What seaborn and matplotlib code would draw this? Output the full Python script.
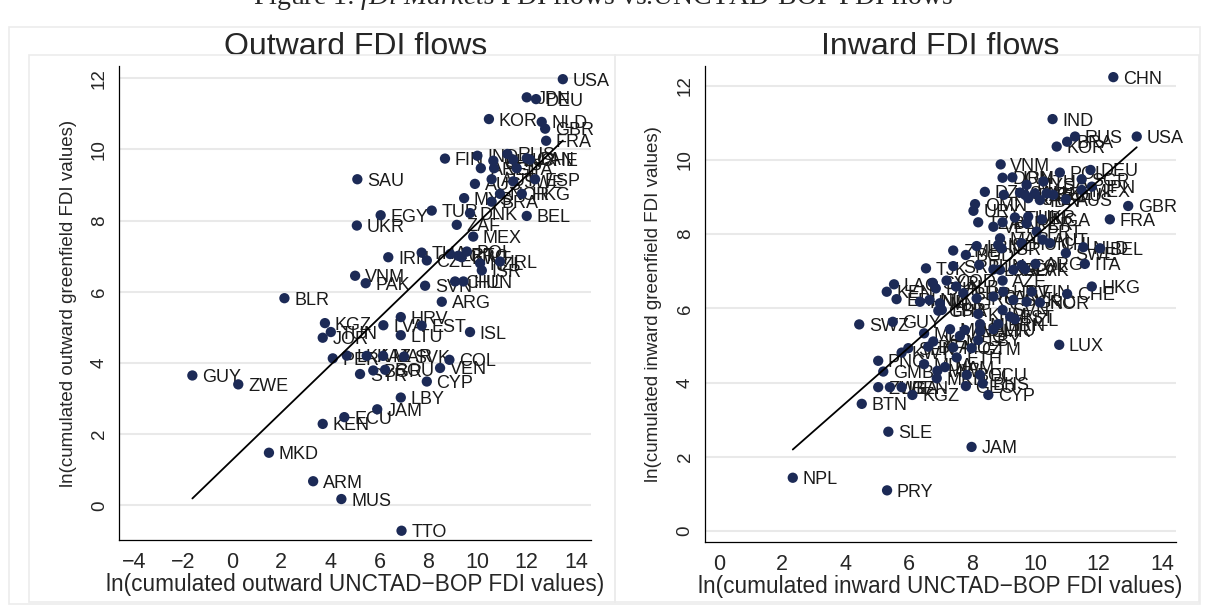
import numpy as np
import pandas as pd
import matplotlib
matplotlib.use("Agg")
import matplotlib.pyplot as plt
from matplotlib.patches import Rectangle
import seaborn as sns

# Outward FDI flows
out_iso = ['USA', 'JPN', 'DEU', 'KOR', 'NLD', 'GBR', 'FRA', 'FIN', 'IND', 'CHN',
           'RUS', 'LUX', 'CAN', 'CHE', 'ARE', 'SGP', 'ITA', 'AUS', 'AUT', 'SWE',
           'ESP', 'MYS', 'NOR', 'HKG', 'BRA', 'TUR', 'DNK', 'BEL', 'ZAF', 'EGY',
           'SAU', 'UKR', 'MEX', 'THA', 'IRN', 'CZE', 'POL', 'PRT', 'GRC', 'KWT',
           'NZL', 'IRL', 'ISR', 'CHL', 'HUN', 'SVN', 'ARG', 'VNM', 'PAK', 'BLR',
           'HRV', 'KGZ', 'LVA', 'EST', 'ISL', 'TUN', 'JOR', 'LTU', 'PER', 'LKA',
           'KAZ', 'MAR', 'SVK', 'COL', 'VEN', 'SYR', 'BGR', 'ROU', 'CYP', 'GUY',
           'ZWE', 'LBY', 'JAM', 'ECU', 'KEN', 'MKD', 'ARM', 'MUS', 'TTO']
out_x = [13.47, 12.00, 12.38, 10.46, 12.61, 12.75, 12.79, 8.67, 9.99, 10.64,
         11.21, 11.45, 12.00, 12.13, 10.13, 10.67, 11.59, 9.89, 10.57, 11.45,
         12.34, 9.45, 10.91, 11.80, 10.57, 8.13, 9.69, 12.00, 9.15, 6.05,
         5.10, 5.08, 9.82, 7.72, 6.36, 7.93, 9.56, 8.88, 9.21, 9.35,
         10.10, 10.91, 10.17, 9.08, 9.42, 7.86, 8.54, 5.01, 5.44, 2.13,
         6.87, 3.78, 6.16, 7.72, 9.69, 4.02, 3.69, 6.87, 4.10, 4.67,
         5.48, 6.15, 7.00, 8.85, 8.47, 5.21, 5.75, 6.23, 7.93, -1.62,
         0.25, 6.87, 5.91, 4.57, 3.69, 1.50, 3.30, 4.45, 6.90]
out_y = [11.97, 11.46, 11.41, 10.85, 10.77, 10.58, 10.24, 9.74, 9.82, 9.68,
         9.87, 9.71, 9.75, 9.71, 9.47, 9.47, 9.47, 9.03, 9.16, 9.10,
         9.16, 8.63, 8.75, 8.75, 8.53, 8.28, 8.21, 8.13, 7.88, 8.15,
         9.16, 7.86, 7.55, 7.10, 6.97, 6.88, 7.13, 7.06, 7.01, 6.97,
         6.80, 6.85, 6.60, 6.29, 6.29, 6.17, 5.72, 6.45, 6.24, 5.82,
         5.29, 5.12, 5.06, 5.05, 4.87, 4.87, 4.71, 4.78, 4.13, 4.21,
         4.20, 4.20, 4.18, 4.09, 3.86, 3.69, 3.79, 3.81, 3.48, 3.65,
         3.40, 3.03, 2.70, 2.48, 2.29, 1.48, 0.68, 0.18, -0.71]
out_fit = (1.275, 0.666)   # intercept, slope of the fitted line

# Inward FDI flows
in_iso = ['CHN', 'IND', 'RUS', 'BRA', 'KOR', 'USA', 'VNM', 'DEU', 'POL', 'DOM',
          'IRN', 'SGP', 'THA', 'MYS', 'JPN', 'MEX', 'DZA', 'PHL', 'SAU', 'QAT',
          'ARE', 'CZE', 'ROU', 'IDN', 'AUS', 'KAZ', 'OMN', 'URY', 'GBR', 'FRA',
          'TZA', 'VEN', 'BLR', 'TUR', 'UKR', 'PER', 'NGA', 'PRT', 'MAR', 'AUT',
          'CHL', 'HUN', 'ISL', 'ISR', 'LBN', 'ZMB', 'BGD', 'NLD', 'BEL', 'SWE',
          'ITA', 'TJK', 'SRB', 'TUN', 'LKA', 'CRI', 'SLV', 'COL', 'ARG', 'PAK',
          'LAO', 'SYR', 'COD', 'BIH', 'ALB', 'AZE', 'KEN', 'ERI', 'HND', 'NIC',
          'MNG', 'LBR', 'BHR', 'IRQ', 'PAN', 'HRV', 'FIN', 'SVK', 'GRC', 'NOR',
          'CHE', 'HKG', 'KHM', 'SVN', 'EST', 'NZL', 'GHA', 'LUX', 'SWZ', 'GUY',
          'MLI', 'MUS', 'LVA', 'MLT', 'CMR', 'LTU', 'BRN', 'YEM', 'AFG', 'LBY',
          'SEN', 'BFA', 'KWT', 'MOZ', 'GTM', 'PNG', 'ETH', 'MDA', 'GMB', 'MWI',
          'NAM', 'BOL', 'ECU', 'MKD', 'GEO', 'BHS', 'CYP', 'KGZ', 'ZWE', 'UGA',
          'BEN', 'BTN', 'SLE', 'JAM', 'NPL', 'PRY']
in_x = [12.46, 10.54, 11.25, 11.00, 10.67, 13.20, 8.90, 11.74, 10.77, 8.96,
        9.27, 11.46, 10.25, 9.72, 11.78, 11.46, 8.40, 9.00, 9.51, 9.67,
        9.98, 10.35, 10.56, 10.14, 10.96, 9.77, 8.09, 8.04, 12.93, 12.35,
        8.19, 8.67, 8.96, 9.35, 9.77, 9.72, 10.20, 10.04, 8.88, 10.23,
        10.46, 9.56, 8.82, 8.93, 8.14, 7.40, 7.80, 11.51, 12.04, 10.96,
        11.56, 6.54, 7.40, 8.22, 8.67, 8.88, 9.30, 9.56, 10.00, 9.67,
        5.53, 6.75, 7.19, 6.85, 7.49, 8.96, 5.30, 5.61, 6.35, 6.65,
        6.98, 7.04, 7.72, 8.14, 8.67, 8.98, 9.88, 9.30, 9.72, 10.14,
        11.00, 11.78, 8.19, 8.96, 9.20, 9.35, 6.93, 10.75, 4.43, 5.49,
        6.48, 7.30, 7.77, 8.25, 8.25, 8.67, 8.82, 6.77, 7.61, 8.19,
        5.98, 6.61, 5.77, 7.40, 7.98, 5.03, 7.51, 6.48, 5.19, 6.90,
        7.14, 7.83, 8.25, 6.88, 7.80, 8.33, 8.51, 6.11, 5.03, 5.40,
        5.77, 4.51, 5.35, 7.98, 2.33, 5.31]
in_y = [12.23, 11.10, 10.63, 10.49, 10.36, 10.63, 9.88, 9.73, 9.66, 9.52,
        9.53, 9.48, 9.42, 9.33, 9.28, 9.19, 9.14, 9.06, 9.12, 9.06,
        9.10, 9.10, 9.06, 8.92, 8.94, 8.97, 8.81, 8.63, 8.76, 8.40,
        8.32, 8.20, 8.32, 8.45, 8.47, 8.29, 8.40, 8.07, 7.89, 7.85,
        7.76, 7.76, 7.71, 7.62, 7.68, 7.56, 7.44, 7.65, 7.62, 7.49,
        7.20, 7.08, 7.14, 7.17, 7.05, 7.04, 7.04, 7.17, 7.20, 7.06,
        6.65, 6.69, 6.75, 6.54, 6.59, 6.75, 6.45, 6.25, 6.18, 6.23,
        6.14, 5.96, 6.41, 6.27, 6.32, 6.45, 6.45, 6.23, 6.18, 6.16,
        6.39, 6.59, 5.85, 5.96, 5.78, 5.71, 5.94, 5.02, 5.57, 5.64,
        5.33, 5.44, 5.42, 5.58, 5.40, 5.44, 5.58, 5.11, 5.26, 5.15,
        4.93, 4.97, 4.81, 4.95, 4.93, 4.59, 4.68, 4.50, 4.30, 4.32,
        4.42, 4.21, 4.21, 4.12, 3.91, 3.98, 3.67, 3.67, 3.88, 3.88,
        3.88, 3.43, 2.68, 2.27, 1.44, 1.10]
in_fit = (0.455, 0.749)

fig_title = r"Figure 1: $\mathit{fDi\ Markets}$ FDI flows vs.UNCTAD-BOP FDI flows"
panel_titles = ['Outward FDI flows', 'Inward FDI flows']
x_labels = ['ln(cumulated outward UNCTAD\u2212BOP FDI values)',
            'ln(cumulated inward UNCTAD\u2212BOP FDI values)']
y_labels = ['ln(cumulated outward greenfield FDI values)',
            'ln(cumulated inward greenfield FDI values)']

sns.set_style("white")
plt.rcParams['font.family'] = ['Liberation Sans', 'DejaVu Sans']
plt.rcParams['mathtext.fontset'] = 'custom'
plt.rcParams['mathtext.rm'] = 'Liberation Serif'
plt.rcParams['mathtext.it'] = 'Liberation Serif:italic'

navy = '#1c2a56'
W, H = 1205, 607
fig = plt.figure(figsize=(W / 100, H / 100), dpi=100)

def px_rect(x0, y0, x1, y1, color):
    fig.add_artist(Rectangle((x0 / W, 1 - y1 / H), (x1 - x0) / W, (y1 - y0) / H,
                             transform=fig.transFigure, fill=False,
                             edgecolor=color, linewidth=1.2))

px_rect(9, 27, 1200, 604, '#ececec')
px_rect(29, 55, 615, 602, '#ececec')
px_rect(615, 55, 1199, 602, '#ececec')

# the figure caption is cut by the top edge in the original
fig.text(0.5, 1 - 4 / H, fig_title, ha='center', va='baseline',
         fontsize=20, family='Liberation Serif')

ax_out = fig.add_axes([119.2 / W, (H - 540) / H, (591.3 - 119.2) / W, (540 - 66) / H])
ax_in = fig.add_axes([704.8 / W, (H - 541.6) / H, (1176.3 - 704.8) / W, (541.6 - 66) / H])

panels = [
    (ax_out, out_iso, out_x, out_y, out_fit, (-4.6, 14.63), (-0.97, 12.34), np.arange(-4, 15, 2)),
    (ax_in, in_iso, in_x, in_y, in_fit, (-0.45, 14.45), (-0.28, 12.53), np.arange(0, 15, 2)),
]

for i, (ax, iso, xs, ys, fit, xlim, ylim, xt) in enumerate(panels):
    df = pd.DataFrame({'iso': iso, 'x': xs, 'y': ys})
    ax.set_xlim(*xlim)
    ax.set_ylim(*ylim)
    for yv in range(0, 13, 2):
        ax.axhline(yv, color='#e9e9e9', lw=1.5, zorder=0)
    sns.scatterplot(data=df, x='x', y='y', ax=ax, color=navy, s=55,
                    edgecolor='none', linewidth=0, zorder=3)
    for _, r in df.iterrows():
        ax.annotate(r['iso'], (r['x'], r['y']), xytext=(7, 0),
                    textcoords='offset points', va='center_baseline', ha='left',
                    fontsize=13, color='#1a1a1a', zorder=2)
    xr = np.array([df['x'].min(), df['x'].max()])
    ax.plot(xr, fit[0] + fit[1] * xr, color='black', lw=1.3, zorder=4)

    ax.set_xticks(xt)
    ax.set_xticklabels([str(v).replace('-', '\u2212') for v in xt], fontsize=15.5)
    ax.set_yticks(range(0, 13, 2))
    ax.set_yticklabels([str(v) for v in range(0, 13, 2)], fontsize=13.5,
                       rotation=90, va='center')
    ax.tick_params(axis='both', direction='out', length=4, width=0.8,
                   color='black', pad=4)
    ax.tick_params(axis='x', pad=5)
    for s in ['top', 'right']:
        ax.spines[s].set_visible(False)
    for s in ['left', 'bottom']:
        ax.spines[s].set_color('black')
        ax.spines[s].set_linewidth(0.9)
    ax.set_xlabel(x_labels[i], fontsize=16.3)
    ax.set_ylabel(y_labels[i], fontsize=13.5)
    ax.xaxis.set_label_coords(0.5, -0.07)
    ax.yaxis.set_label_coords(-0.09, 0.5)
    ax.set_title(panel_titles[i], fontsize=23, pad=8)
    ax.set_facecolor('white')

fig.savefig('out.png', dpi=100)
